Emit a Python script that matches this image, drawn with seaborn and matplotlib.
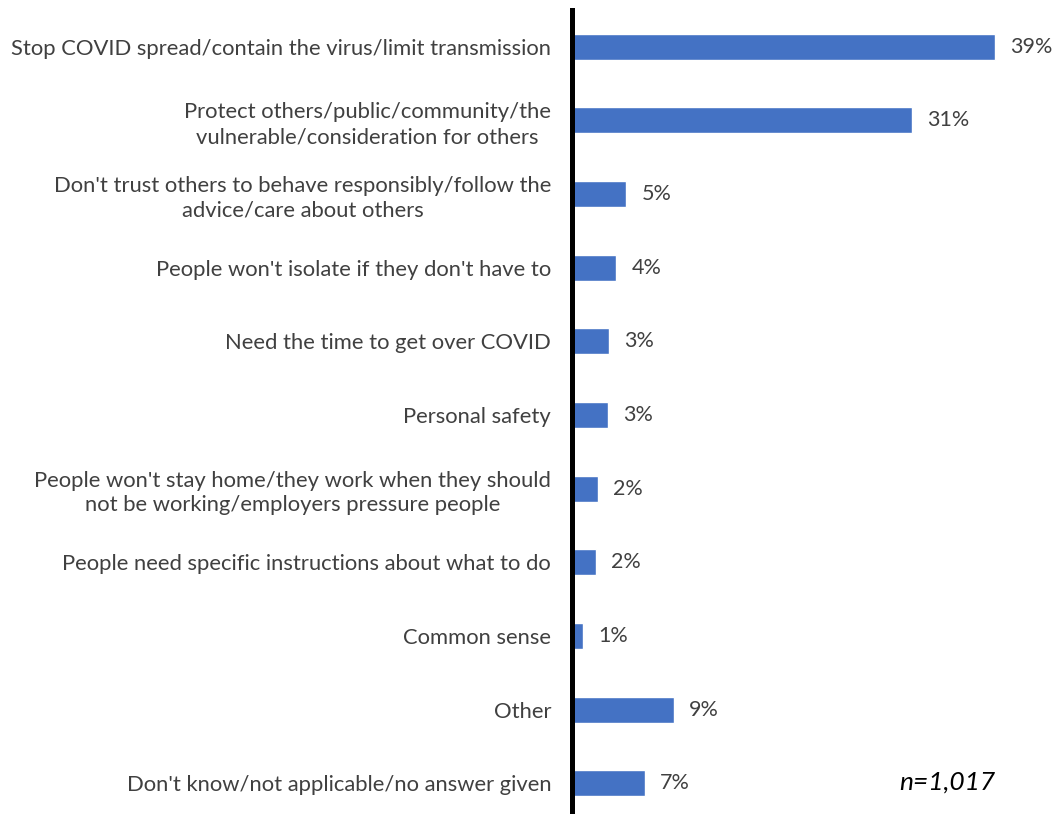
import matplotlib
matplotlib.use("Agg")
import matplotlib.pyplot as plt
import seaborn as sns
import pandas as pd

categories = [
    "Stop COVID spread/contain the virus/limit transmission",
    "Protect others/public/community/the\nvulnerable/consideration for others",
    "Don't trust others to behave responsibly/follow the\nadvice/care about others",
    "People won't isolate if they don't have to",
    "Need the time to get over COVID",
    "Personal safety",
    "People won't stay home/they work when they should\nnot be working/employers pressure people",
    "People need specific instructions about what to do",
    "Common sense",
    "Other",
    "Don't know/not applicable/no answer given",
]
values = [39.0, 31.3, 5.0, 4.1, 3.4, 3.3, 2.4, 2.2, 1.0, 9.4, 6.7]
value_labels = ["39%", "31%", "5%", "4%", "3%", "3%", "2%", "2%", "1%", "9%", "7%"]
note = "n=1,017"

sns.set_theme(style="white")
plt.rcParams['font.family'] = ['Lato', 'DejaVu Sans']

fig = plt.figure(figsize=(10.56, 8.14), dpi=100)
ax = fig.add_axes([572 / 1056, -6 / 814, (1056 - 572) / 1056, 810 / 814])

df = pd.DataFrame({"cat": categories, "val": values})
sns.barplot(data=df, y="cat", x="val", orient="h", color="#4472C4",
            saturation=1, width=0.353, ax=ax)

ax.set_xlim(0, (1056 - 572) / 10.85)
ax.set_ylim(10.5, -0.5)
ax.set_xlabel("")
ax.set_ylabel("")
ax.set_xticks([])
for s in ["top", "right", "bottom"]:
    ax.spines[s].set_visible(False)
ax.spines["left"].set_color("black")
ax.spines["left"].set_linewidth(3.6)

ax.tick_params(axis="y", length=0, pad=15, labelsize=15.8, labelcolor="#404040")
for t in ax.get_yticklabels():
    t.set_multialignment("center")
    t.set_linespacing(1.3)

ax.bar_label(ax.containers[0], labels=value_labels, padding=11,
             fontsize=15.5, color="#404040")

fig.text(899 / 1056, 1 - 782 / 814, note, fontsize=19, style="italic",
         color="black", ha="left", va="center")

fig.savefig("out.png", dpi=100)
